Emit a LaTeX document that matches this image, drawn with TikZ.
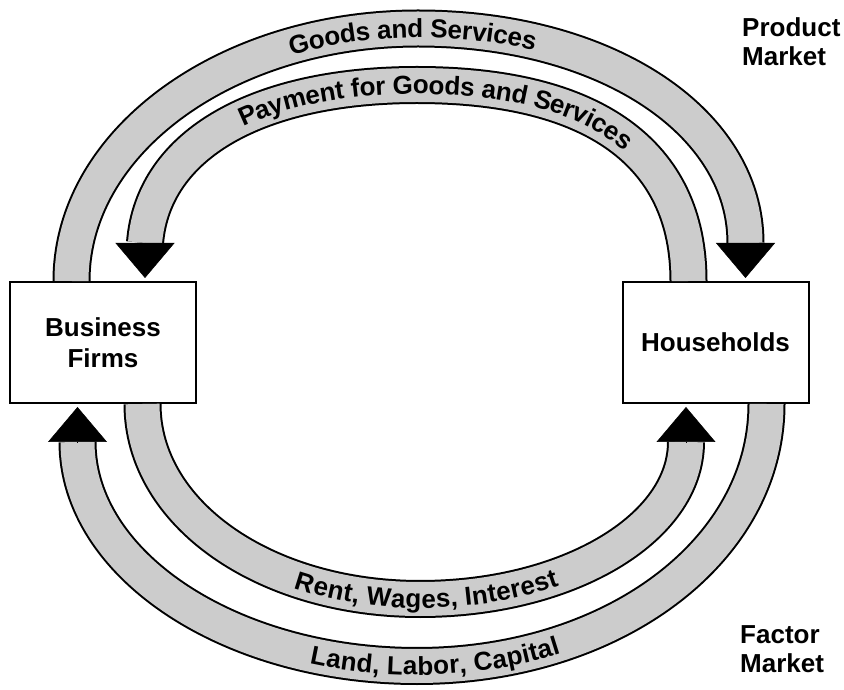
\documentclass[tikz,border=0pt]{standalone}
\usepackage{fontspec}
\setmainfont{Liberation Sans}
\usepackage{tikz}
\usetikzlibrary{arrows.meta,decorations.text,calc}
\definecolor{gr}{RGB}{204,204,204}
\def\lbl{\bfseries\fontsize{26}{31}\selectfont}
\def\mkt{\bfseries\fontsize{26}{29.5}\selectfont}
\tikzset{
  box/.style={draw, line width=2pt, fill=white, minimum width=186pt, minimum height=121pt, inner sep=0pt, align=center, font=\lbl},
  band/.style={line width=2pt, double=gr, double distance=34pt},
  head/.style={-{Triangle[width=59pt,length=35pt]}, line width=0.5pt},
  along/.style={decorate, decoration={text along path, text align=center, raise=-9pt, text={|\lbl|#1}}},
  shift text/.style={decoration={text align={align=center, left indent=#1}}},
  mark label/.style={anchor=north west, align=left, inner sep=0pt, font=\mkt}
}

\begin{document}
\begin{tikzpicture}[x=1pt,y=1pt]
  \useasboundingbox (0,0) rectangle (844,689);
  \node[box] (BF) at (103,346.5) {Business\\Firms};
  \node[box] (HH) at (715.5,346.5) {Households};
  \node[mark label] (PM) at (742,672) {Product\\Market};
  \node[mark label] (FM) at (740,64) {Factor\\Market};

  \coordinate (G1) at ($(BF.north)+(-31.5,0)$);
  \coordinate (GT) at (418,660.5);
  \coordinate (G2) at ($(HH.north)+(30,38)$);
  \coordinate (G3) at ($(HH.north)+(30,3)$);
  \coordinate (P1) at ($(HH.north)+(-27,0)$);
  \coordinate (PT) at (417,604);
  \coordinate (P2) at ($(BF.north)+(42,38)$);
  \coordinate (P3) at ($(BF.north)+(42,3)$);
  \coordinate (R1) at ($(BF.south)+(39.5,0)$);
  \coordinate (RT) at (420,90);
  \coordinate (R2) at ($(HH.south)+(-29.5,-38)$);
  \coordinate (R3) at ($(HH.south)+(-29.5,-3)$);
  \coordinate (L1) at ($(HH.south)+(51,0)$);
  \coordinate (LT) at (417,23);
  \coordinate (L2) at ($(BF.south)+(-25.5,-38)$);
  \coordinate (L3) at ($(BF.south)+(-25.5,-3)$);

  \draw[band] (G1) .. controls +(0,140) and +(-191,0) .. (GT) .. controls +(187,0) and +(0,122) .. (G2);
  \draw[band] (P1) .. controls +(0,128) and +(176,0) .. (PT) .. controls +(-157,0) and +(8,100) .. (P2);
  \draw[band] (R1) .. controls +(0,-110) and +(-155,0) .. (RT) .. controls +(147,0) and +(0,-87) .. (R2);
  \draw[band] (L1) .. controls +(0,-147) and +(196,0) .. (LT) .. controls +(-187,0) and +(0,-123) .. (L2);

  \draw[head] (G2) -- (G3);
  \draw[head] (P2) -- (P3);
  \draw[head] (R2) -- (R3);
  \draw[head] (L2) -- (L3);

  \path[along={Goods and Services}, shift text=30pt] (G1) .. controls +(0,140) and +(-191,0) .. (GT) .. controls +(187,0) and +(0,122) .. (G2);
  \path[along={Payment for Goods and Services}, shift text=10pt] (P2) .. controls +(8,100) and +(-157,0) .. (PT) .. controls +(176,0) and +(0,128) .. (P1);
  \path[along={Rent, Wages, Interest}, shift text=50pt] (R1) .. controls +(0,-110) and +(-155,0) .. (RT) .. controls +(147,0) and +(0,-87) .. (R2);
  \path[along={Land, Labor, Capital}] (L2) .. controls +(0,-123) and +(-187,0) .. (LT) .. controls +(196,0) and +(0,-147) .. (L1);
\end{tikzpicture}
\end{document}
